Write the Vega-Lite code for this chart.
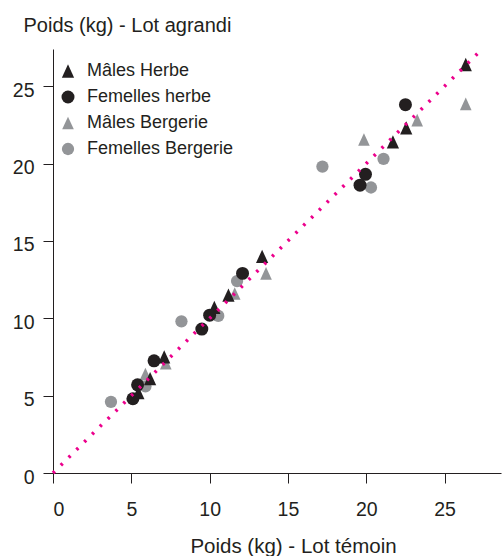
{
  "$schema": "https://vega.github.io/schema/vega-lite/v6.json",
  "width": 448,
  "height": 424,
  "autosize": {"type": "none"},
  "padding": {"left": 53, "top": 49, "right": 1, "bottom": 83},
  "background": "white",
  "config": {
    "view": {"stroke": null},
    "font": "Liberation Sans",
    "axis": {
      "grid": false,
      "domainColor": "#231f20",
      "tickColor": "#231f20",
      "tickSize": 10,
      "labelColor": "#231f20",
      "labelFont": "Liberation Sans",
      "labelFontSize": 19.5,
      "titleFont": "Liberation Sans",
      "titleFontSize": 20.5,
      "titleFontWeight": "normal",
      "titleColor": "#231f20"
    }
  },
  "datasets": {
    "points": [
      {"serie": "Mâles Bergerie", "temoin": 5.9, "agrandi": 6.4},
      {"serie": "Mâles Bergerie", "temoin": 7.2, "agrandi": 7.1},
      {"serie": "Mâles Bergerie", "temoin": 11.6, "agrandi": 11.6},
      {"serie": "Mâles Bergerie", "temoin": 13.6, "agrandi": 12.9},
      {"serie": "Mâles Bergerie", "temoin": 19.85, "agrandi": 21.55},
      {"serie": "Mâles Bergerie", "temoin": 23.25, "agrandi": 22.8},
      {"serie": "Mâles Bergerie", "temoin": 26.35, "agrandi": 23.85},
      {"serie": "Femelles Bergerie", "temoin": 3.7, "agrandi": 4.6},
      {"serie": "Femelles Bergerie", "temoin": 5.9, "agrandi": 5.6},
      {"serie": "Femelles Bergerie", "temoin": 8.2, "agrandi": 9.8},
      {"serie": "Femelles Bergerie", "temoin": 10.55, "agrandi": 10.15},
      {"serie": "Femelles Bergerie", "temoin": 11.75, "agrandi": 12.4},
      {"serie": "Femelles Bergerie", "temoin": 17.2, "agrandi": 19.8},
      {"serie": "Femelles Bergerie", "temoin": 20.3, "agrandi": 18.45},
      {"serie": "Femelles Bergerie", "temoin": 21.1, "agrandi": 20.3},
      {"serie": "Mâles Herbe", "temoin": 5.45, "agrandi": 5.2},
      {"serie": "Mâles Herbe", "temoin": 6.2, "agrandi": 6.1},
      {"serie": "Mâles Herbe", "temoin": 7.1, "agrandi": 7.5},
      {"serie": "Mâles Herbe", "temoin": 10.3, "agrandi": 10.7},
      {"serie": "Mâles Herbe", "temoin": 11.2, "agrandi": 11.5},
      {"serie": "Mâles Herbe", "temoin": 13.35, "agrandi": 14.0},
      {"serie": "Mâles Herbe", "temoin": 21.7, "agrandi": 21.4},
      {"serie": "Mâles Herbe", "temoin": 22.55, "agrandi": 22.3},
      {"serie": "Mâles Herbe", "temoin": 26.35, "agrandi": 26.4},
      {"serie": "Femelles herbe", "temoin": 5.1, "agrandi": 4.8},
      {"serie": "Femelles herbe", "temoin": 5.4, "agrandi": 5.7},
      {"serie": "Femelles herbe", "temoin": 6.45, "agrandi": 7.25},
      {"serie": "Femelles herbe", "temoin": 9.5, "agrandi": 9.3},
      {"serie": "Femelles herbe", "temoin": 10.0, "agrandi": 10.2},
      {"serie": "Femelles herbe", "temoin": 12.1, "agrandi": 12.9},
      {"serie": "Femelles herbe", "temoin": 19.6, "agrandi": 18.6},
      {"serie": "Femelles herbe", "temoin": 19.95, "agrandi": 19.3},
      {"serie": "Femelles herbe", "temoin": 22.5, "agrandi": 23.8}
    ],
    "diagonal": [
      {"temoin": 0, "agrandi": 0},
      {"temoin": 27.2, "agrandi": 27.2}
    ]
  },
  "layer": [
    {
      "data": {"name": "points"},
      "mark": {"type": "point", "filled": true, "opacity": 1, "strokeWidth": 0},
      "encoding": {
        "x": {
          "field": "temoin", "type": "quantitative",
          "scale": {"domain": [0, 28.6], "nice": false, "zero": false},
          "axis": {
            "title": "Poids (kg) - Lot témoin",
            "values": [0, 5, 10, 15, 20, 25],
            "labelPadding": 17,
            "titleAlign": "center",
            "titleBaseline": "alphabetic",
            "titleX": 240,
            "titleY": 79,
            "titleAnchor": null
          }
        },
        "y": {
          "field": "agrandi", "type": "quantitative",
          "scale": {"domain": [0, 27.4], "nice": false, "zero": false},
          "axis": {
            "title": "Poids (kg) - Lot agrandi",
            "values": [0, 5, 10, 15, 20, 25],
            "labelPadding": 9,
            "labelOffset": 4,
            "titleAngle": 0,
            "titleFontSize": 20,
            "titleAlign": "left",
            "titleBaseline": "alphabetic",
            "titleX": -30,
            "titleY": -18,
            "titleAnchor": null
          }
        },
        "shape": {
          "field": "serie", "type": "nominal",
          "scale": {
            "domain": ["Mâles Herbe", "Femelles herbe", "Mâles Bergerie", "Femelles Bergerie"],
            "range": ["M0,-1L-0.92,1L0.92,1Z", "circle", "M0,-1L-0.92,1L0.92,1Z", "circle"]
          },
          "legend": {
            "title": null,
            "orient": "none",
            "legendX": 6,
            "legendY": 13,
            "labelFont": "Liberation Sans",
            "labelFontSize": 18,
            "labelColor": "#231f20",
            "labelOffset": 10,
            "rowPadding": 8,
            "padding": 0
          }
        },
        "color": {
          "field": "serie", "type": "nominal",
          "scale": {
            "domain": ["Mâles Herbe", "Femelles herbe", "Mâles Bergerie", "Femelles Bergerie"],
            "range": ["#231f20", "#231f20", "#939598", "#939598"]
          },
          "legend": {
            "title": null,
            "orient": "none",
            "legendX": 6,
            "legendY": 13,
            "labelFont": "Liberation Sans",
            "labelFontSize": 18,
            "labelColor": "#231f20",
            "labelOffset": 10,
            "rowPadding": 8,
            "padding": 0
          }
        },
        "size": {
          "field": "serie", "type": "nominal",
          "scale": {
            "domain": ["Mâles Herbe", "Femelles herbe", "Mâles Bergerie", "Femelles Bergerie"],
            "range": [177, 151, 177, 151]
          },
          "legend": {
            "title": null,
            "orient": "none",
            "legendX": 6,
            "legendY": 13,
            "labelFont": "Liberation Sans",
            "labelFontSize": 18,
            "labelColor": "#231f20",
            "labelOffset": 10,
            "rowPadding": 8,
            "padding": 0
          }
        }
      }
    },
    {
      "data": {"name": "diagonal"},
      "mark": {"type": "line", "color": "#ec008c", "strokeWidth": 3.5, "strokeDash": [2.5, 8.5]},
      "encoding": {
        "x": {"field": "temoin", "type": "quantitative"},
        "y": {"field": "agrandi", "type": "quantitative"}
      }
    }
  ]
}
